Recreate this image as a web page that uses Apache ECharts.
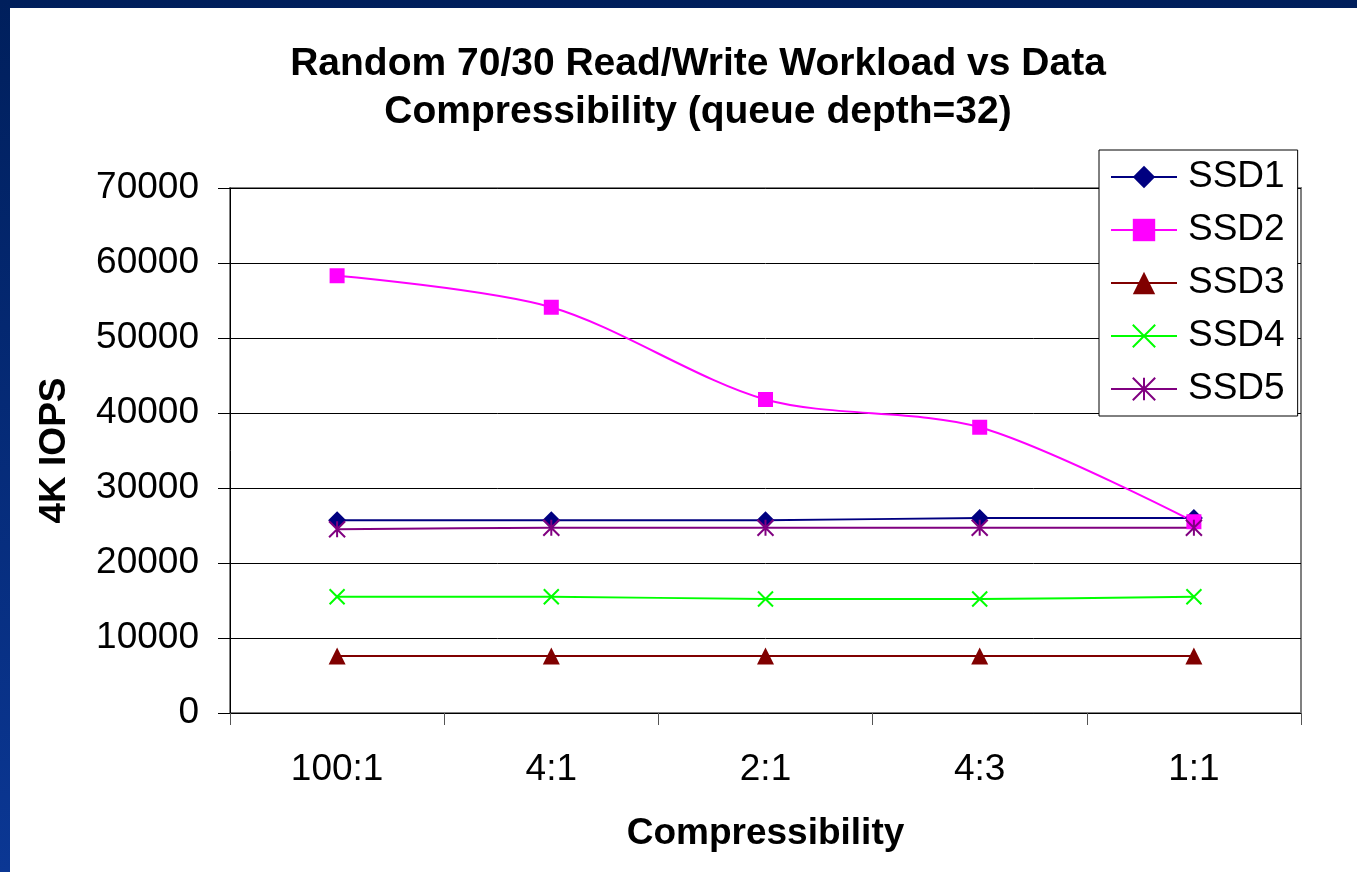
<!DOCTYPE html>
<html>
<head>
<meta charset="utf-8">
<script src="https://cdn.jsdelivr.net/npm/echarts@6/dist/echarts.min.js"></script>
<style>
    html, body { margin: 0; padding: 0; width: 1357px; height: 872px; overflow: hidden; }
    body { background: linear-gradient(to bottom, #001f5c, #0b3794); position: relative; }
    #main { position: absolute; left: 10px; top: 8px; width: 1347px; height: 864px; background: #fff; }
</style>
</head>
<body>
<div id="main"></div>
<script>
    // 数据
    var categories = ['100:1', '4:1', '2:1', '4:3', '1:1'];
    var ssd1 = [25700, 25700, 25700, 26000, 26000];
    var ssd2 = [58300, 54100, 41800, 38100, 25500];
    var ssd3 = [7600, 7600, 7600, 7600, 7600];
    var ssd4 = [15500, 15500, 15200, 15200, 15500];
    var ssd5 = [24500, 24700, 24700, 24700, 24700];
    var yTicks = [0, 10000, 20000, 30000, 40000, 50000, 60000, 70000];

    var font = '"Liberation Sans", Arial, sans-serif';
    var xPath = 'path://M0,0L10,10M10,0L0,10';
    var starPath = 'path://M5,0L5,10M0,0L10,10M10,0L0,10';

    function line(name, data, color, symbol, size, stroked) {
        return {
            name: name,
            type: 'line',
            data: data,
            smooth: 0.3,
            symbol: symbol,
            symbolSize: size,
            showAllSymbol: true,
            lineStyle: { color: color, width: 2 },
            itemStyle: stroked
                ? { color: 'rgba(0,0,0,0)', borderColor: color, borderWidth: 2 }
                : { color: color, borderWidth: 0 },
            emphasis: { disabled: true }
        };
    }

    var myChart = echarts.init(document.getElementById('main'));
    var option = {
        animation: false,
        textStyle: { fontFamily: font },
        title: {
            text: 'Random 70/30 Read/Write Workload vs Data\nCompressibility (queue depth=32)',
            left: 683,
            textAlign: 'center',
            top: 27,
            textStyle: { fontFamily: font, fontSize: 39, fontWeight: 'bold', color: '#000', lineHeight: 48 }
        },
        legend: {
            orient: 'vertical',
            left: 1089,
            top: 142,
            padding: [7, 13, 7, 11],
            itemGap: 13,
            itemWidth: 66,
            itemHeight: 28,
            backgroundColor: '#fff',
            borderColor: '#000',
            borderWidth: 1,
            textStyle: { fontFamily: font, fontSize: 37, color: '#000', lineHeight: 40, padding: [0, 0, 0, 6] },
            data: ['SSD1', 'SSD2', 'SSD3', 'SSD4', 'SSD5']
        },
        grid: {
            left: 220,
            top: 180,
            width: 1071,
            height: 525,
            outerBoundsMode: 'none',
            containLabel: false,
            show: true,
            borderColor: '#808080',
            borderWidth: 2
        },
        xAxis: {
            type: 'category',
            data: categories,
            boundaryGap: true,
            name: 'Compressibility',
            nameLocation: 'middle',
            nameGap: 102,
            nameTextStyle: { fontFamily: font, fontSize: 37, fontWeight: 'bold', color: '#000' },
            axisLine: { lineStyle: { color: '#000', width: 1 } },
            axisTick: { show: true, length: 12, lineStyle: { color: '#555' } },
            axisLabel: { fontFamily: font, fontSize: 37, color: '#000', margin: 38 }
        },
        yAxis: {
            type: 'value',
            min: yTicks[0],
            max: yTicks[yTicks.length - 1],
            interval: 10000,
            name: '4K IOPS',
            nameLocation: 'middle',
            nameGap: 157,
            nameTextStyle: { fontFamily: font, fontSize: 37, fontWeight: 'bold', color: '#000' },
            axisLine: { show: true, lineStyle: { color: '#000', width: 1 } },
            axisTick: { show: true, length: 12, lineStyle: { color: '#000' } },
            axisLabel: { fontFamily: font, fontSize: 37, color: '#000', margin: 31, formatter: function (v) { return String(v); } },
            splitLine: { lineStyle: { color: '#000', width: 1 } }
        },
        series: [
            line('SSD1', ssd1, '#000080', 'diamond', 18, false),
            line('SSD2', ssd2, '#ff00ff', 'rect', 15, false),
            line('SSD3', ssd3, '#800000', 'triangle', 17, false),
            line('SSD4', ssd4, '#00ff00', xPath, 15, true),
            line('SSD5', ssd5, '#800080', starPath, 16, true)
        ]
    };
    myChart.setOption(option);
</script>
</body>
</html>
